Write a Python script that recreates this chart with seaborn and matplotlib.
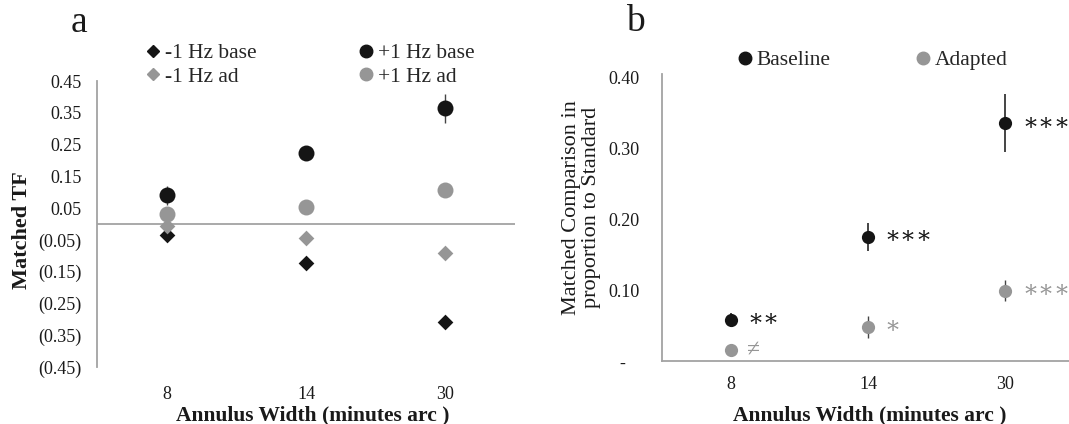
import matplotlib
matplotlib.use("Agg")
import matplotlib.pyplot as plt
import seaborn as sns
import numpy as np
from matplotlib.lines import Line2D

# ---------------- data ----------------
widths = ["8", "14", "30"]

# panel a: matched temporal frequency
neg_base = [-0.035, -0.124, -0.308]
neg_ad = [-0.005, -0.045, -0.092]
pos_base = [0.091, 0.224, 0.364]
pos_ad = [0.033, 0.054, 0.107]
pos_base_err = [0.03, 0.02, 0.045]
a_ticks = [0.45, 0.35, 0.25, 0.15, 0.05, -0.05, -0.15, -0.25, -0.35, -0.45]
a_tick_labels = ["0.45", "0.35", "0.25", "0.15", "0.05",
                 "(0.05)", "(0.15)", "(0.25)", "(0.35)", "(0.45)"]

# panel b: matched comparison in proportion to standard
baseline = [0.058, 0.175, 0.335]
adapted = [0.015, 0.048, 0.099]
baseline_err = [0.01, 0.02, 0.041]
adapted_err = [0.006, 0.015, 0.015]
baseline_sig = ["∗∗", "∗∗∗", "∗∗∗"]
adapted_sig = ["≠", "∗", "∗∗∗"]
b_ticks = [0.0, 0.1, 0.2, 0.3, 0.4]
b_tick_labels = ["-   ", "0.10", "0.20", "0.30", "0.40"]

# ---------------- style ----------------
sns.set_theme(style="white")
plt.rcParams["font.family"] = ["Liberation Serif", "DejaVu Serif"]
BLACK = "#151515"
GRAY = "#969696"
AXIS = "#a3a3a3"
TXT = "#1a1a1a"

fig = plt.figure(figsize=(10.69, 4.24), dpi=100)
W, H = 1069, 424
ax_a = fig.add_axes([97 / W, (H - 367) / H, 418 / W, 286 / H])
ax_b = fig.add_axes([662 / W, (H - 361) / H, 412 / W, 287.5 / H])

# ---------------- panel a ----------------
xs = np.arange(len(widths))
ax_a.axhline(0, color=AXIS, lw=1.3, zorder=0)
ax_a.errorbar(xs, pos_base, yerr=pos_base_err, fmt="none", ecolor="#444444",
              elinewidth=1.0, zorder=1)
for vals, col, mk, sz in [(neg_base, BLACK, "D", 8.0),
                          (neg_ad, GRAY, "D", 8.0),
                          (pos_ad, GRAY, "o", 11.5),
                          (pos_base, BLACK, "o", 11.5)]:
    sns.stripplot(x=widths, y=vals, order=widths, jitter=False, color=col,
                  marker=mk, size=sz, linewidth=0, ax=ax_a, zorder=3)

ax_a.set_xlim(-0.5, 2.5)
ax_a.set_ylim(-0.45, 0.45)
ax_a.set_yticks(a_ticks)
ax_a.set_yticklabels(a_tick_labels)
for s in ["top", "right", "bottom"]:
    ax_a.spines[s].set_visible(False)
ax_a.spines["left"].set_color(AXIS)
ax_a.spines["left"].set_linewidth(1.3)
ax_a.tick_params(axis="y", length=0, pad=11, labelsize=13, labelcolor=TXT)
ax_a.tick_params(axis="x", length=0, pad=14, labelsize=13, labelcolor=TXT)
ax_a.set_xlabel("Annulus Width (minutes arc )", fontsize=15.5,
                fontweight="bold", color=TXT)
ax_a.xaxis.set_label_coords(0.515, -0.133)
ax_a.set_ylabel("Matched TF", fontsize=16, fontweight="bold", color=TXT)
ax_a.yaxis.set_label_coords(-0.155, 0.48)
fig.text(79 / W, 1 - 23 / H, "a", fontsize=27, ha="center", va="center",
         color=TXT)

h_a = [Line2D([], [], ls="", marker="D", color=BLACK, ms=6),
       Line2D([], [], ls="", marker="D", color=GRAY, ms=6),
       Line2D([], [], ls="", marker="o", color=BLACK, ms=9),
       Line2D([], [], ls="", marker="o", color=GRAY, ms=9)]
l_a = ["-1 Hz base", "-1 Hz ad", "+1 Hz base", "+1 Hz ad"]
fig.legend(h_a, l_a, ncol=2, frameon=False, fontsize=15.5,
           loc="center left", bbox_to_anchor=(146.5 / W, 1 - 65 / H),
           handlelength=0.6, handletextpad=0.25, columnspacing=4.8,
           labelspacing=0.15, borderpad=0, borderaxespad=0)

# ---------------- panel b ----------------
ax_b.errorbar(xs, baseline, yerr=baseline_err, fmt="none", ecolor="#444444",
              elinewidth=1.4, zorder=1)
ax_b.errorbar(xs, adapted, yerr=adapted_err, fmt="none", ecolor="#444444",
              elinewidth=1.0, zorder=1)
sns.stripplot(x=widths, y=adapted, order=widths, jitter=False, color=GRAY,
              marker="o", size=9.5, linewidth=0, ax=ax_b, zorder=3)
sns.stripplot(x=widths, y=baseline, order=widths, jitter=False, color=BLACK,
              marker="o", size=9.5, linewidth=0, ax=ax_b, zorder=3)

for i in range(len(widths)):
    ax_b.annotate(baseline_sig[i], (i, baseline[i]), xytext=(12, 0),
                  textcoords="offset points", va="center", ha="left",
                  fontsize=17, color=BLACK)
    ax_b.annotate(adapted_sig[i], (i, adapted[i]), xytext=(12, 0),
                  textcoords="offset points", va="center", ha="left",
                  fontsize=17, color=GRAY)

ax_b.set_xlim(-0.5, 2.5)
ax_b.set_ylim(0, 0.405)
ax_b.set_yticks(b_ticks)
ax_b.set_yticklabels(b_tick_labels)
for s in ["top", "right"]:
    ax_b.spines[s].set_visible(False)
for s in ["left", "bottom"]:
    ax_b.spines[s].set_color(AXIS)
    ax_b.spines[s].set_linewidth(1.3)
ax_b.tick_params(axis="y", length=0, pad=16, labelsize=13, labelcolor=TXT)
ax_b.tick_params(axis="x", length=0, pad=11, labelsize=13, labelcolor=TXT)
ax_b.set_xlabel("Annulus Width (minutes arc )", fontsize=15.5,
                fontweight="bold", color=TXT)
ax_b.xaxis.set_label_coords(0.505, -0.155)
ax_b.set_ylabel("Matched Comparison in\nproportion to Standard", fontsize=16,
                color=TXT, linespacing=1.1)
ax_b.yaxis.set_label_coords(-0.148, 0.535)
fig.text(635 / W, 1 - 22 / H, "b", fontsize=27, ha="center", va="center",
         color=TXT)

h_b = [Line2D([], [], ls="", marker="o", color=BLACK, ms=9),
       Line2D([], [], ls="", marker="o", color=GRAY, ms=9)]
fig.legend(h_b, ["Baseline", "Adapted"], ncol=2, frameon=False, fontsize=15.5,
           loc="center left", bbox_to_anchor=(738.5 / W, 1 - 60 / H),
           handlelength=0.6, handletextpad=0.25, columnspacing=4.0,
           borderpad=0, borderaxespad=0)

fig.savefig("out.png", dpi=100)
